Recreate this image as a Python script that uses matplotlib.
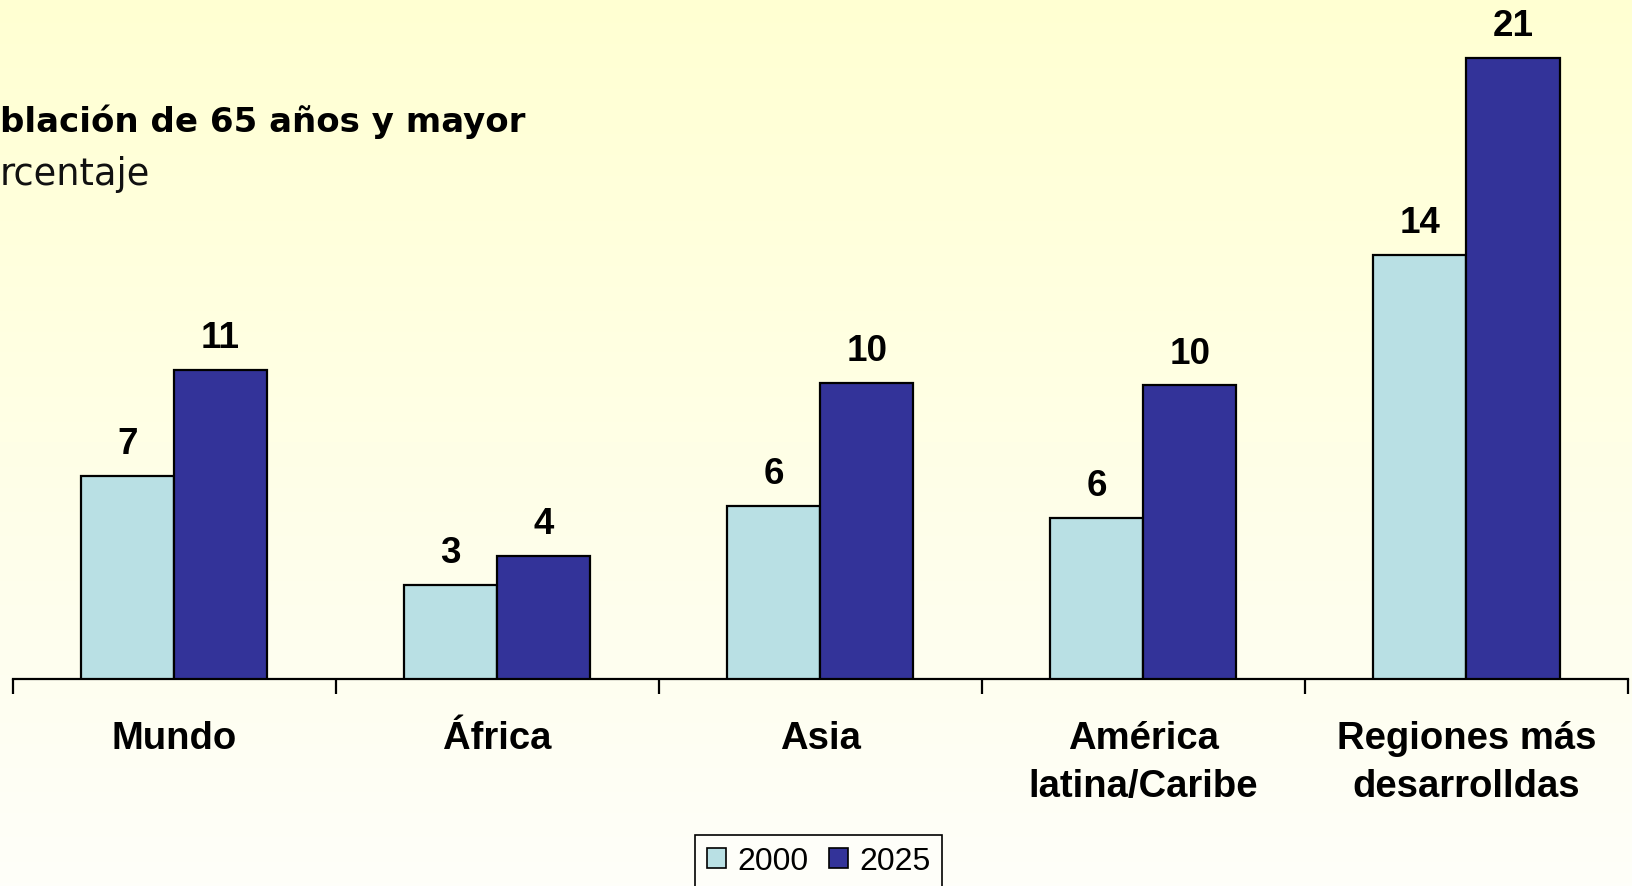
import numpy as np
import matplotlib
matplotlib.use("Agg")
import matplotlib.pyplot as plt
from matplotlib.patches import Patch
from matplotlib.colors import LinearSegmentedColormap

categories = ["Mundo", "África", "Asia", "América\nlatina/Caribe", "Regiones más\ndesarrolldas"]
series_names = ["2000", "2025"]
values_2000 = [6.87, 3.18, 5.85, 5.46, 14.33]
values_2025 = [10.46, 4.17, 10.0, 9.93, 21.0]
labels_2000 = ["7", "3", "6", "6", "14"]
labels_2025 = ["11", "4", "10", "10", "21"]
title_line1 = "blación de 65 años y mayor"
title_line2 = "rcentaje"

color_2000 = "#B9E0E4"
color_2025 = "#333399"

W, H = 1633, 887
fig = plt.figure(figsize=(W / 100, H / 100), dpi=100)

# background gradient
bg = fig.add_axes([0, 0, 1, 1], zorder=-10)
grad = np.linspace(0, 1, 256).reshape(-1, 1)
cmap = LinearSegmentedColormap.from_list("bg", ["#FFFFD2", "#FFFFE6", "#FEFEF9"])
bg.imshow(grad, aspect="auto", cmap=cmap, extent=[0, 1, 0, 1], origin="upper")
bg.set_axis_off()

ax_left = 12.5 / W
ax_right = 1628 / W
ax_bottom = (H - 680) / H
ax = fig.add_axes([ax_left, ax_bottom, ax_right - ax_left, 1 - ax_bottom])
ax.patch.set_alpha(0)

x = np.arange(len(categories))
bw = 0.288
ax.bar(x - bw / 2, values_2000, bw, color=color_2000, edgecolor="black", linewidth=1.6, zorder=3)
ax.bar(x + bw / 2, values_2025, bw, color=color_2025, edgecolor="black", linewidth=1.6, zorder=3)

for xi, v, lab in zip(x - bw / 2, values_2000, labels_2000):
    ax.annotate(lab, (xi, v), xytext=(0, 16.5), textcoords="offset points",
                ha="center", va="baseline", fontsize=26.5, fontweight="bold",
                family="Liberation Sans")
for xi, v, lab in zip(x + bw / 2, values_2025, labels_2025):
    ax.annotate(lab, (xi, v), xytext=(0, 16.5), textcoords="offset points",
                ha="center", va="baseline", fontsize=26.5, fontweight="bold",
                family="Liberation Sans", annotation_clip=False)

ax.set_xlim(-0.5, len(categories) - 0.5)
ax.set_ylim(0, 23.0)
for s in ["top", "right", "left"]:
    ax.spines[s].set_visible(False)
ax.spines["bottom"].set_linewidth(1.6)
ax.set_yticks([])
ax.set_xticks(np.arange(-0.5, len(categories), 1.0))
ax.set_xticklabels([])
ax.tick_params(axis="x", direction="out", length=11, width=1.6)

line_baselines = [749, 797]
for xi, cat in zip(x, categories):
    for k, line in enumerate(cat.split("\n")):
        ax.text(xi, -(line_baselines[k] - 680) / 680, line, transform=ax.get_xaxis_transform(),
                ha="center", va="baseline", fontsize=27.5, fontweight="bold",
                family="Liberation Sans")

fig.text(0.0, (H - 132) / H, title_line1, fontsize=24.5, fontweight="bold",
         family="DejaVu Sans", ha="left", va="baseline")
fig.text(0.0, (H - 185) / H, title_line2, fontsize=26.5, fontweight="normal",
         family="DejaVu Sans", ha="left", va="baseline", color="#111111")

handles = [Patch(facecolor=color_2000, edgecolor="black", linewidth=1.2),
           Patch(facecolor=color_2025, edgecolor="black", linewidth=1.2)]
leg = fig.legend(handles, series_names, loc="upper center",
                 bbox_to_anchor=(818.5 / W, 51 / H), ncol=2,
                 prop={"family": "Liberation Sans", "size": 23},
                 frameon=True, fancybox=False, edgecolor="black",
                 facecolor="#FEFEF9", framealpha=1,
                 handlelength=0.6, handleheight=0.6, handletextpad=0.35,
                 columnspacing=0.65, borderpad=0.35, borderaxespad=0)
leg.get_frame().set_linewidth(1.2)

fig.savefig("out.png", dpi=100)
